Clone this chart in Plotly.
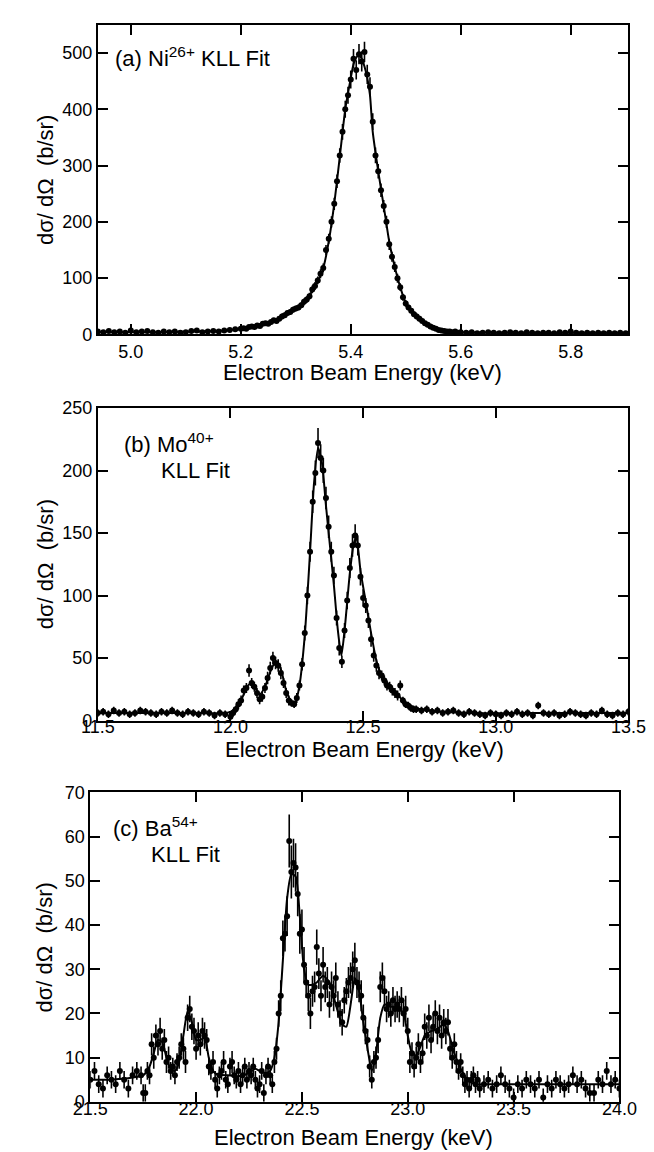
import plotly.graph_objects as go

# ---------------- (a) Ni26+ ----------------
ni_energy = [
    4.94, 4.95, 4.96, 4.97, 4.98, 4.99, 5.00, 5.01, 5.02, 5.03,
    5.04, 5.05, 5.06, 5.07, 5.08, 5.09, 5.10, 5.11, 5.12, 5.13,
    5.14, 5.15, 5.16, 5.17, 5.18, 5.19, 5.20,
    5.205, 5.21, 5.215, 5.22, 5.225, 5.23, 5.235, 5.24, 5.245, 5.25,
    5.255, 5.26, 5.265, 5.27, 5.275, 5.28, 5.285, 5.29, 5.295, 5.30,
    5.305, 5.31, 5.315, 5.32, 5.325, 5.33, 5.335, 5.34, 5.345, 5.35,
    5.355, 5.36, 5.365, 5.37, 5.375, 5.38, 5.385, 5.39, 5.395, 5.40,
    5.405, 5.41, 5.415, 5.42, 5.425, 5.43, 5.435, 5.44, 5.445, 5.45,
    5.455, 5.46, 5.465, 5.47, 5.475, 5.48, 5.485, 5.49, 5.495, 5.50,
    5.505, 5.51, 5.515, 5.52, 5.525, 5.53, 5.535, 5.54, 5.545, 5.55,
    5.555, 5.56, 5.565, 5.57, 5.575, 5.58, 5.585, 5.59, 5.595, 5.60,
    5.61, 5.62, 5.63, 5.64, 5.65, 5.66, 5.67, 5.68, 5.69, 5.70,
    5.71, 5.72, 5.73, 5.74, 5.75, 5.76, 5.77, 5.78, 5.79, 5.80,
    5.81, 5.82, 5.83, 5.84, 5.85, 5.86, 5.87, 5.88, 5.89, 5.90,
]
ni_sigma = [
    5, 4, 6, 4, 5, 3, 7, 4, 5, 6,
    4, 3, 5, 4, 5, 3, 4, 6, 7, 4,
    5, 6, 5, 7, 8, 9, 10,
    11, 10, 13, 14, 13, 16, 15, 19, 20, 19,
    22, 25, 24, 28, 32, 34, 38, 40, 44, 46,
    48, 52, 58, 62, 68, 80, 86, 96, 108, 118,
    150, 170, 200, 232, 272, 318, 360, 400, 425, 453,
    490, 470, 498, 485, 502, 462, 440, 378, 318, 290,
    256, 228, 200, 160, 138, 120, 100, 84, 66, 55,
    48, 42, 36, 32, 28, 24, 20, 17, 14, 12,
    10, 8, 7, 6, 5, 5, 4, 5, 3, 4,
    3, 4, 2, 3, 4, 3, 2, 3, 4, 3,
    2, 4, 3, 2, 3, 3, 2, 4, 3, 5,
    3, 2, 3, 2, 3, 2, 3, 2, 3, 2,
]
ni_err = [3] * 27 + [
    3, 3, 3, 3, 3, 3, 3, 4, 4, 4,
    4, 4, 4, 4, 5, 5, 5, 5, 5, 5,
    5, 5, 6, 6, 6, 7, 7, 7, 8, 8,
    9, 9, 10, 11, 12, 13, 14, 15, 15, 16,
    17, 17, 18, 18, 18, 17, 17, 15, 14, 13,
    12, 11, 11, 10, 9, 9, 8, 7, 6, 6,
    5, 5, 5, 5, 5, 4, 4, 4, 4, 4,
    3, 3, 3, 3, 3, 3, 3, 3, 3, 3,
] + [3] * 30
ni_fit_e = [4.94, 5.00, 5.05, 5.10, 5.15, 5.18, 5.20, 5.22, 5.24, 5.26,
            5.28, 5.30, 5.31, 5.32, 5.33, 5.34, 5.35, 5.36, 5.37, 5.38,
            5.39, 5.40, 5.405, 5.41, 5.415, 5.42, 5.425, 5.43, 5.435, 5.44,
            5.45, 5.46, 5.47, 5.48, 5.49, 5.50, 5.51, 5.52, 5.53, 5.54,
            5.55, 5.56, 5.57, 5.58, 5.60, 5.70, 5.80, 5.905]
ni_fit_v = [4, 4, 4, 5, 6, 8, 10, 14, 18, 24,
            33, 45, 52, 60, 78, 95, 118, 165, 232, 315,
            400, 455, 480, 492, 496, 490, 476, 456, 425, 360,
            290, 228, 165, 120, 84, 56, 42, 32, 24, 17,
            12, 8, 6, 4.5, 4, 3, 3, 3]
ni_ticks = [5.0, 5.2, 5.4, 5.6, 5.8]

# ---------------- (b) Mo40+ ----------------
mo_energy = [
    11.50, 11.52, 11.54, 11.56, 11.58, 11.60, 11.62, 11.64, 11.66, 11.68,
    11.70, 11.72, 11.74, 11.76, 11.78, 11.80, 11.82, 11.84, 11.86, 11.88,
    11.90, 11.92, 11.94, 11.96, 11.98, 12.00,
    12.01, 12.02, 12.03, 12.04, 12.05, 12.06, 12.07, 12.08, 12.09, 12.10,
    12.11, 12.12, 12.13, 12.14, 12.15, 12.16, 12.17, 12.18, 12.19, 12.20,
    12.21, 12.22, 12.23, 12.24, 12.25, 12.26, 12.27, 12.28, 12.29, 12.30,
    12.31, 12.32, 12.33, 12.34, 12.35, 12.36, 12.37, 12.38, 12.39, 12.40,
    12.41, 12.42, 12.43, 12.44, 12.45, 12.46, 12.47, 12.48, 12.49, 12.50,
    12.51, 12.52, 12.53, 12.54, 12.55, 12.56, 12.57, 12.58, 12.59, 12.60,
    12.61, 12.62, 12.63, 12.64, 12.65, 12.66, 12.67, 12.68, 12.69, 12.70,
    12.72, 12.74, 12.76, 12.78, 12.80, 12.82, 12.84, 12.86, 12.88, 12.90,
    12.92, 12.94, 12.96, 12.98, 13.00, 13.02, 13.04, 13.06, 13.08, 13.10,
    13.12, 13.14, 13.16, 13.18, 13.20, 13.22, 13.24, 13.26, 13.28, 13.30,
    13.32, 13.34, 13.36, 13.38, 13.40, 13.42, 13.44, 13.46, 13.48, 13.50,
]
mo_sigma = [
    6, 7, 5, 8, 6, 7, 5, 6, 8, 7,
    6, 5, 7, 6, 8, 6, 5, 7, 6, 5,
    7, 6, 4, 6, 5, 3,
    6, 9, 13, 16, 24, 26, 40, 30, 27, 22,
    17, 19, 26, 34, 42, 50, 46, 44, 38, 30,
    22, 16, 14, 13, 18, 28, 45, 70, 100, 135,
    175, 198, 222, 210, 200, 178, 155, 135, 116, 82,
    58, 47, 72, 96, 122, 140, 148, 140, 115, 98,
    92, 80, 65, 52, 44, 38, 36, 32, 28, 27,
    24, 22, 20, 28, 16, 13, 12, 10, 9, 9,
    8, 9, 7, 8, 6, 7, 8, 6, 5, 7,
    6, 5, 4, 6, 5, 4, 6, 5, 7, 5,
    6, 4, 12, 6, 5, 6, 4, 5, 7, 6,
    5, 4, 6, 5, 8, 5, 4, 6, 5, 7,
]
mo_err = [3] * 26 + [
    3, 3, 4, 4, 4, 4, 5, 4, 4, 4,
    4, 4, 4, 5, 5, 5, 5, 5, 5, 4,
    4, 4, 3, 3, 4, 4, 5, 6, 7, 8,
    9, 10, 12, 11, 10, 9, 9, 8, 7, 6,
    6, 5, 6, 7, 8, 9, 9, 8, 7, 7,
    6, 6, 6, 5, 5, 5, 4, 4, 4, 4,
    4, 4, 4, 4, 3, 3, 3, 3, 3, 3,
] + [3] * 40
mo_fit_e = [11.50, 11.70, 11.90, 11.97, 12.00, 12.03, 12.05, 12.07, 12.09, 12.11,
            12.13, 12.15, 12.17, 12.19, 12.21, 12.23, 12.245, 12.26, 12.28, 12.30,
            12.315, 12.33, 12.345, 12.36, 12.375, 12.39, 12.405, 12.418, 12.43, 12.45,
            12.465, 12.475, 12.49, 12.51, 12.53, 12.55, 12.57, 12.60, 12.63, 12.66,
            12.70, 12.75, 12.80, 12.90, 13.10, 13.50]
mo_fit_v = [6, 6, 6, 6, 7, 12, 21, 29, 27, 21,
            27, 39, 47, 41, 24, 15, 15, 28, 68, 135,
            190, 218, 206, 172, 140, 108, 72, 52, 72, 118,
            142, 146, 120, 95, 70, 48, 36, 28, 21, 14,
            10, 8, 7, 6, 6, 6]
mo_ticks = [11.5, 12.0, 12.5, 13.0, 13.5]

# ---------------- (c) Ba54+ ----------------
ba_energy = [
    21.50, 21.52, 21.54, 21.56, 21.58, 21.60, 21.62, 21.64, 21.66, 21.68,
    21.70, 21.72, 21.74,
    21.75, 21.76, 21.77, 21.78, 21.79, 21.80, 21.81, 21.82, 21.83, 21.84,
    21.85, 21.86, 21.87, 21.88, 21.89, 21.90, 21.91, 21.92, 21.93, 21.94,
    21.95, 21.96, 21.97, 21.98, 21.99, 22.00, 22.01, 22.02, 22.03, 22.04,
    22.05, 22.06, 22.07, 22.08, 22.09, 22.10, 22.11, 22.12, 22.13, 22.14,
    22.15, 22.16, 22.17, 22.18, 22.19, 22.20, 22.21, 22.22, 22.23, 22.24,
    22.25, 22.26, 22.27, 22.28, 22.29, 22.30, 22.31, 22.32, 22.33, 22.34,
    22.35, 22.36, 22.37, 22.38, 22.39, 22.40, 22.41, 22.42, 22.43, 22.44,
    22.45, 22.46, 22.47, 22.48, 22.49, 22.50, 22.51, 22.52, 22.53, 22.54,
    22.55, 22.56, 22.57, 22.58, 22.59, 22.60, 22.61, 22.62, 22.63, 22.64,
    22.65, 22.66, 22.67, 22.68, 22.69, 22.70, 22.71, 22.72, 22.73, 22.74,
    22.75, 22.76, 22.77, 22.78, 22.79, 22.80, 22.81, 22.82, 22.83, 22.84,
    22.85, 22.86, 22.87, 22.88, 22.89, 22.90, 22.91, 22.92, 22.93, 22.94,
    22.95, 22.96, 22.97, 22.98, 22.99, 23.00, 23.01, 23.02, 23.03, 23.04,
    23.05, 23.06, 23.07, 23.08, 23.09, 23.10, 23.11, 23.12, 23.13, 23.14,
    23.15, 23.16, 23.17, 23.18, 23.19, 23.20, 23.21, 23.22, 23.23, 23.24,
    23.25, 23.26, 23.27, 23.28, 23.29, 23.30, 23.31, 23.32, 23.33, 23.34,
    23.36, 23.38, 23.40, 23.42, 23.44, 23.46, 23.48, 23.50, 23.52, 23.54,
    23.56, 23.58, 23.60, 23.62, 23.64, 23.66, 23.68, 23.70, 23.72, 23.74,
    23.76, 23.78, 23.80, 23.82, 23.84, 23.86, 23.88, 23.90, 23.92, 23.94,
    23.96, 23.98, 24.00,
]
ba_sigma = [
    5, 7, 4, 3, 6, 5, 4, 7, 5, 3,
    6, 7, 6,
    2, 2, 7, 6, 13, 10, 15, 13, 16, 12,
    14, 9, 10, 7, 8, 6, 9, 10, 13, 12,
    9, 19, 21, 17, 16, 12, 15, 13, 16, 15,
    14, 8, 7, 9, 5, 3, 6, 7, 9, 5,
    4, 8, 9, 6, 5, 7, 4, 6, 8, 5,
    7, 6, 8, 5, 3, 4, 7, 2, 6, 8,
    6, 4, 9, 12, 20, 24, 37, 38, 42, 59,
    52, 54, 53, 47, 38, 39, 31, 27, 24, 20,
    25, 26, 35, 29, 24, 31, 26, 27, 22, 26,
    24, 28, 22, 20, 18, 23, 25, 27, 28, 30,
    32, 27, 26, 24, 19, 16, 14, 8, 5, 9,
    10, 14, 26, 28, 25, 21, 22, 20, 23, 21,
    22, 21, 23, 20, 21, 16, 9, 11, 8, 10,
    13, 9, 11, 17, 15, 19, 14, 17, 20, 16,
    19, 15, 18, 16, 18, 12, 10, 13, 9, 7,
    9, 6, 4, 5, 3, 5, 6, 4, 5, 3,
    4, 5, 3, 4, 6, 4, 3, 1, 4, 3,
    5, 4, 3, 5, 1, 4, 3, 5, 4, 3,
    4, 6, 4, 5, 3, 2, 2, 5, 4, 7,
    4, 5, 3,
]
ba_err = [2] * 13 + [
    2, 2, 2, 2, 2.5, 2.5, 2.5, 2.5, 3, 2.5,
    2.5, 2.5, 2.5, 2, 2, 2, 2, 2.5, 2.5, 2.5,
    2.5, 3, 3, 3, 3, 2.5, 3, 2.5, 3, 3,
    2.5, 2, 2, 2.5, 2, 2, 2, 2, 2.5, 2,
    2, 2, 2.5, 2, 2, 2, 2, 2, 2, 2,
    2, 2, 2, 2, 2, 2, 2, 2, 2, 2,
    2, 2, 2.5, 2.5, 3, 3.5, 4, 4, 4.5, 6,
    6, 5.5, 5.5, 5, 4.5, 4.5, 4, 3.5, 3.5, 3.5,
    3.5, 3.5, 4, 3.5, 3.5, 4, 3.5, 3.5, 3, 3.5,
    3.5, 3.5, 3, 3, 3, 3, 3, 3.5, 3.5, 4,
    4, 3.5, 3.5, 3.5, 3, 3, 2.5, 2.5, 2, 2.5,
    2.5, 3, 3.5, 3.5, 3.5, 3, 3, 3, 3, 3,
    3, 3, 3, 3, 3, 3, 2.5, 2.5, 2.5, 2.5,
    2.5, 2.5, 2.5, 3, 3, 3, 3, 3, 3, 3,
    3, 3, 3, 3, 3, 2.5, 2.5, 2.5, 2.5, 2,
    2, 2, 2, 2, 2, 2, 2, 2, 2, 2,
] + [2] * 33
ba_fit_e = [21.50, 21.60, 21.65, 21.70, 21.75, 21.78, 21.80, 21.82, 21.84, 21.86,
            21.88, 21.90, 21.92, 21.94, 21.96, 21.98, 22.00, 22.02, 22.04, 22.06,
            22.08, 22.10, 22.15, 22.20, 22.25, 22.28, 22.30, 22.33, 22.35, 22.37,
            22.39, 22.41, 22.43, 22.45, 22.47, 22.49, 22.51, 22.53, 22.55, 22.57,
            22.60, 22.63, 22.66, 22.69, 22.71, 22.73, 22.75, 22.77, 22.79, 22.81,
            22.83, 22.85, 22.87, 22.89, 22.92, 22.95, 22.98, 23.00, 23.02, 23.04,
            23.06, 23.08, 23.11, 23.14, 23.17, 23.19, 23.22, 23.25, 23.28, 23.32,
            23.40, 23.60, 23.80, 24.00]
ba_fit_v = [5, 5, 5.2, 5.5, 6, 8, 11, 14, 13.5, 10,
            7.5, 7, 9, 15, 20.5, 18, 14, 14, 14.5, 10,
            7, 6.2, 6, 5.8, 6.5, 7.5, 7, 6.5, 7, 10,
            18, 32, 46, 51.5, 51, 42, 30, 26.5, 26.5, 27,
            28.5, 27, 22, 17.5, 17, 22, 28, 25, 18, 12,
            7, 11, 19, 22, 21.5, 21.5, 20, 15, 11, 10.5,
            12.5, 15, 16, 16.5, 17.5, 16, 11, 7.5, 5, 4,
            4, 4, 4, 4]
ba_ticks = [21.5, 22.0, 22.5, 23.0, 23.5, 24.0]

W, H = 654, 1152
FONT = "Liberation Sans, Arial, Helvetica, sans-serif"


def px(x):
    return x / W


def py(y):
    return 1 - y / H


panels = [
    # data, fit, axis suffix, x range, y range, x ticks, y dtick, box (left, right, top, bottom) px,
    # label standoff, half bin width for the horizontal bar
    (ni_energy, ni_sigma, ni_err, ni_fit_e, ni_fit_v, "", [4.94, 5.905], [0, 550], ni_ticks, 100,
     (76, 637.5, 7, 322), 0, 0.004),
    (mo_energy, mo_sigma, mo_err, mo_fit_e, mo_fit_v, "2", [11.5, 13.5], [0, 250], mo_ticks, 50,
     (76, 637.5, 397, 715), -11, 0.008),
    (ba_energy, ba_sigma, ba_err, ba_fit_e, ba_fit_v, "3", [21.5, 24.0], [0, 70], ba_ticks, 10,
     (68, 628, 788, 1103), -10, 0.007),
]

fig = go.Figure()
layout = {}
for (xe, ys, er, fe, fv, k, xr, yr, xt, ydt, box, stand, hbin) in panels:
    xa, ya = "x" + k, "y" + k
    fig.add_trace(go.Scatter(
        x=xe, y=ys, mode="markers", xaxis=xa, yaxis=ya,
        marker=dict(size=6, color="black"),
        error_y=dict(type="data", array=er, thickness=1.6, width=0, color="black"),
        error_x=dict(type="constant", value=hbin, thickness=1.6, width=0, color="black"),
        showlegend=False, cliponaxis=True))
    fig.add_trace(go.Scatter(
        x=fe, y=fv, mode="lines", xaxis=xa, yaxis=ya,
        line=dict(color="black", width=2, shape="spline", smoothing=0.6),
        showlegend=False))
    left, right, top, bottom = box
    common = dict(showline=True, linewidth=2, linecolor="black", mirror="ticks",
                  ticks="inside", ticklen=10, tickwidth=2, tickcolor="black",
                  showgrid=False, zeroline=False,
                  tickfont=dict(family=FONT, size=18, color="black"))
    layout["xaxis" + k] = dict(common, domain=[px(left), px(right)], range=xr,
                               anchor=ya, tickvals=xt, tickformat=".1f",
                               ticklabelstandoff=stand)
    layout["yaxis" + k] = dict(common, domain=[py(bottom), py(top)], range=yr,
                               anchor=xa, dtick=ydt, tick0=0)

annotations = []
title_font = dict(family=FONT, size=22, color="black")
label_font = dict(family=FONT, size=22, color="black")
for cx, cy in [(356, 361), (358, 744), (347, 1139)]:
    annotations.append(dict(x=px(cx), y=py(cy), xref="paper", yref="paper",
                            text="Electron Beam Energy (keV)", showarrow=False,
                            xanchor="center", yanchor="middle", font=title_font))
for cy in [165, 556, 946]:
    annotations.append(dict(x=px(20), y=py(cy), xref="paper", yref="paper",
                            text="dσ/ dΩ  (b/sr)", showarrow=False, textangle=-90,
                            xanchor="center", yanchor="middle", font=title_font))
labels = [
    ("(a) Ni<sup>26+</sup> KLL Fit", 92, 40),
    ("(b) Mo<sup>40+</sup>", 102, 433),
    ("KLL Fit", 141, 460),
    ("(c) Ba<sup>54+</sup>", 90, 823),
    ("KLL Fit", 130, 851),
]
for txt, lx, ly in labels:
    annotations.append(dict(x=px(lx), y=py(ly), xref="paper", yref="paper",
                            text=txt, showarrow=False, xanchor="left",
                            yanchor="middle", font=label_font))

fig.update_layout(width=W, height=H, margin=dict(l=0, r=0, t=0, b=0),
                  paper_bgcolor="white", plot_bgcolor="white",
                  annotations=annotations, **layout)

fig.write_html("out.html")
